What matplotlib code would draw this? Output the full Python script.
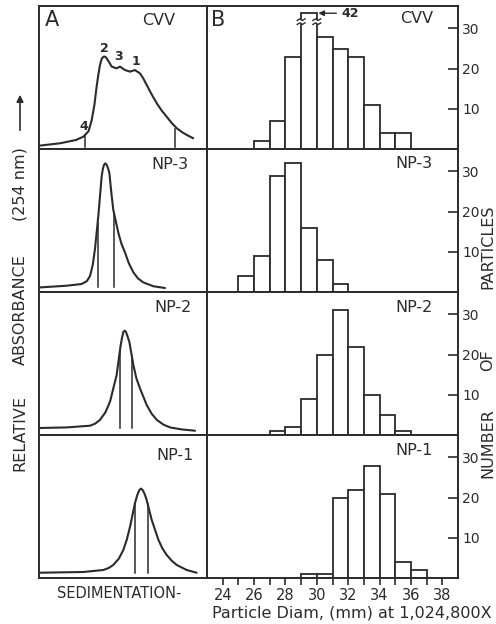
import numpy as np
import matplotlib
matplotlib.use("Agg")
import matplotlib.pyplot as plt

# ---------------- data ----------------
# Panel B histograms: left bin edge (nm) and particle counts
cvv_bins = [26, 27, 28, 29, 30, 31, 32, 33, 34, 35]
cvv_counts = [2, 7, 23, 42, 28, 25, 23, 11, 4, 4]
np3_bins = [25, 26, 27, 28, 29, 30, 31]
np3_counts = [4, 9, 29, 32, 16, 8, 2]
np2_bins = [27, 28, 29, 30, 31, 32, 33, 34, 35]
np2_counts = [1, 2, 9, 20, 31, 22, 10, 5, 1]
np1_bins = [29, 30, 31, 32, 33, 34, 35, 36]
np1_counts = [1, 1, 20, 22, 28, 21, 4, 2]

hist_ticks = [10, 20, 30]
x_ticks = list(range(24, 39))
x_labels = [str(v) if v % 2 == 0 else "" for v in x_ticks]

# Panel A sedimentation profiles (relative units)
cvv_x = [0, 12.5, 22.0, 26.4, 29.5, 31.4, 33.0, 34.3, 35.4, 36.3, 37.3, 38.3,
         39.4, 40.3, 41.8, 43.3, 46.2, 48.2, 51.2, 54.2, 57.1, 60.1, 62.0,
         64.1, 67.0, 70.1, 73.0, 76.0, 79.0, 82.0, 85.0, 88.0, 91.8]
cvv_y = [2.3, 4.0, 6.3, 8.6, 12.5, 20.3, 31.0, 43.6, 52.5, 58.7, 63.0, 64.5,
         64.6, 63.4, 60.5, 57.6, 56.4, 57.6, 55.2, 54.1, 55.2, 52.9, 49.5,
         44.8, 38.3, 32.0, 26.9, 22.6, 18.2, 14.5, 11.9, 9.8, 7.5]
cvv_cuts = [27.4, 81.0]
cvv_peak_labels = ["4", "2", "3", "1"]
cvv_peak_x = [26.4, 38.7, 47.6, 57.7]
cvv_peak_y = [16.0, 70.5, 64.5, 61.5]

np3_x = [0.6, 16.5, 25.4, 28.5, 30.4, 32.0, 33.3, 35.3, 37.3, 38.0, 38.7,
         39.5, 40.3, 41.1, 41.9, 43.0, 44.2, 47.2, 49.0, 51.2, 53.5, 56.2,
         59.0, 62.1, 68.1, 75.0]
np3_y = [3.2, 4.4, 5.6, 7.6, 11.3, 19.0, 29.9, 53.0, 80.8, 86.0, 88.9, 90.0,
         88.9, 86.5, 83.1, 70.0, 57.6, 41.5, 34.0, 27.6, 20.0, 13.7, 9.4,
         6.7, 4.0, 2.8]
np3_cuts = [34.9, 44.6]

np2_x = [0.6, 16.5, 30.4, 33.5, 36.3, 39.5, 42.3, 46.2, 48.6, 49.5, 50.2,
         51.0, 51.8, 52.7, 53.8, 56.2, 58.0, 60.1, 64.1, 67.0, 70.1, 74.0,
         78.0, 85.0, 92.9]
np2_y = [4.9, 5.3, 6.5, 8.0, 10.6, 15.8, 23.4, 41.9, 62.7, 68.5, 72.0, 73.0,
         72.0, 69.0, 65.0, 48.8, 39.5, 32.6, 21.0, 15.0, 10.6, 7.3, 5.3,
         3.9, 3.0]
np2_cuts = [48.2, 55.5]

np1_x = [0.6, 26.4, 38.3, 41.5, 44.2, 47.5, 50.2, 52.3, 54.2, 57.1, 58.5,
         59.7, 60.7, 61.7, 62.8, 64.1, 67.1, 71.1, 73.5, 76.0, 79.0, 82.0,
         87.9, 93.8]
np1_y = [3.7, 4.2, 5.6, 7.0, 9.1, 13.5, 19.6, 27.0, 35.9, 52.2, 58.0, 61.5,
         62.5, 61.5, 59.0, 54.5, 40.6, 26.6, 20.6, 16.1, 12.1, 9.1, 5.6, 3.7]
np1_cuts = [57.1, 64.7]

row_names = ["CVV", "NP-3", "NP-2", "NP-1"]

# ---------------- style / layout ----------------
INK = "#2b2b2b"
W, H = 496, 624
fig = plt.figure(figsize=(W / 100, H / 100), dpi=100)
fig.patch.set_facecolor("white")

LEFT_A, RIGHT_A, RIGHT_B = 39, 207, 458
TOP, BOTTOM = 6, 578
row_h = (BOTTOM - TOP) / 4
HIST_YMAX = 35.6
CAP = 33.8  # display height of the broken (truncated) bar

def fig_rect(x0, x1, ytop, ybot):
    return [x0 / W, 1 - ybot / H, (x1 - x0) / W, (ybot - ytop) / H]

curves = [(cvv_x, cvv_y, cvv_cuts), (np3_x, np3_y, np3_cuts),
          (np2_x, np2_y, np2_cuts), (np1_x, np1_y, np1_cuts)]
hists = [(cvv_bins, cvv_counts), (np3_bins, np3_counts),
         (np2_bins, np2_counts), (np1_bins, np1_counts)]
left_lbl_pos = [(0.71, 0.90), (0.78, 0.89), (0.80, 0.895), (0.81, 0.86)]
right_lbl_pos = [(0.835, 0.915), (0.825, 0.90), (0.825, 0.895), (0.823, 0.895)]

for i in range(4):
    ytop = TOP + i * row_h
    ybot = ytop + row_h
    axA = fig.add_axes(fig_rect(LEFT_A, RIGHT_A, ytop, ybot))
    axB = fig.add_axes(fig_rect(RIGHT_A, RIGHT_B, ytop, ybot))
    for ax in (axA, axB):
        for s in ax.spines.values():
            s.set_color(INK)
            s.set_linewidth(1.4)

    # ---- panel A: sedimentation profile ----
    cx, cy, cuts = curves[i]
    axA.plot(cx, cy, color=INK, lw=1.5, solid_joinstyle="round",
             solid_capstyle="round")
    base = cy[0] if i > 0 else 1.6
    for c in cuts:
        top = np.interp(c, cx, cy)
        if i == 0:
            top = top * 0.9
        axA.plot([c, c], [base, top], color=INK, lw=1.1)
    axA.set_xlim(0, 100)
    axA.set_ylim(0, 100)
    axA.set_xticks([])
    axA.set_yticks([])
    lx, ly = left_lbl_pos[i]
    axA.text(lx, ly, row_names[i], transform=axA.transAxes, ha="center",
             va="center", fontsize=11.5, color=INK)
    if i == 0:
        axA.text(0.077, 0.90, "A", transform=axA.transAxes, ha="center",
                 va="center", fontsize=15, color=INK)
        for t, px, py in zip(cvv_peak_labels, cvv_peak_x, cvv_peak_y):
            axA.text(px, py, t, ha="center", va="center", fontsize=9,
                     color=INK, fontweight="bold")

    # ---- panel B: histogram ----
    bins, counts = hists[i]
    shown = [min(c, CAP) for c in counts]
    axB.bar(bins, shown, width=1.0, align="edge", facecolor="white",
            edgecolor=INK, linewidth=1.3, zorder=2)
    axB.set_xlim(23, 39)
    axB.set_ylim(0, HIST_YMAX)
    axB.yaxis.tick_right()
    axB.set_yticks(hist_ticks)
    axB.set_yticklabels([str(t) for t in hist_ticks])
    axB.tick_params(axis="y", direction="in", length=7, width=1.2,
                    colors=INK, labelsize=10, pad=3, left=False, right=True)
    rx, ry = right_lbl_pos[i]
    axB.text(rx, ry, row_names[i], transform=axB.transAxes, ha="center",
             va="center", fontsize=11.5, color=INK)
    if i == 3:
        axB.set_xticks(x_ticks)
        axB.set_xticklabels(x_labels)
        axB.tick_params(axis="x", direction="out", length=5, width=1.2,
                        colors=INK, labelsize=10.5, pad=2)
    else:
        axB.set_xticks([])
    if i == 0:
        axB.text(0.044, 0.90, "B", transform=axB.transAxes, ha="center",
                 va="center", fontsize=15, color=INK)
        # break marks on the truncated bar
        for b, c in zip(bins, counts):
            if c > CAP:
                axB.add_patch(plt.Rectangle((b - 0.15, 31.2), 1.3, 0.9,
                                            facecolor="white", edgecolor="none",
                                            zorder=3))
                for xe in (b, b + 1):
                    tx = np.array([-0.25, -0.08, 0.08, 0.25])
                    axB.plot(xe + tx, [31.0, 31.4, 31.0, 31.4], color=INK,
                             lw=1.0, zorder=4)
                    axB.plot(xe + tx, [32.0, 32.4, 32.0, 32.4], color=INK,
                             lw=1.0, zorder=4)
                axB.annotate(str(c), xy=(b + 1.1, CAP), xytext=(b + 2.6, CAP),
                             ha="left", va="center", fontsize=9,
                             fontweight="bold", color=INK,
                             arrowprops=dict(arrowstyle="-|>", color=INK,
                                             lw=1.0, shrinkA=2, shrinkB=0,
                                             mutation_scale=8))

# ---- outer texts (words placed separately to match the wide lettering) ----
for word, yc in [("RELATIVE", 433), ("ABSORBANCE", 310), ("(254 nm)", 184)]:
    fig.text(20 / W, 1 - yc / H, word, rotation=90, ha="center", va="center",
             fontsize=11.5, color=INK)
fig.add_artist(matplotlib.patches.FancyArrowPatch(
    (20 / W, 1 - 133 / H), (20 / W, 1 - 92 / H), transform=fig.transFigure,
    arrowstyle="-|>", mutation_scale=10, color=INK, lw=1.2))
for word, yc in [("NUMBER", 443), ("OF", 360), ("PARTICLES", 247)]:
    fig.text(488 / W, 1 - yc / H, word, rotation=90, ha="center", va="center",
             fontsize=11.5, color=INK)
fig.text(119 / W, 1 - 593 / H, "SEDIMENTATION-", ha="center", va="center",
         fontsize=10.5, color=INK)
fig.text(352 / W, 1 - 613 / H, "Particle Diam, (mm) at 1,024,800X",
         ha="center", va="center", fontsize=11.5, color=INK)

fig.savefig("out.png", dpi=100, facecolor="white")
